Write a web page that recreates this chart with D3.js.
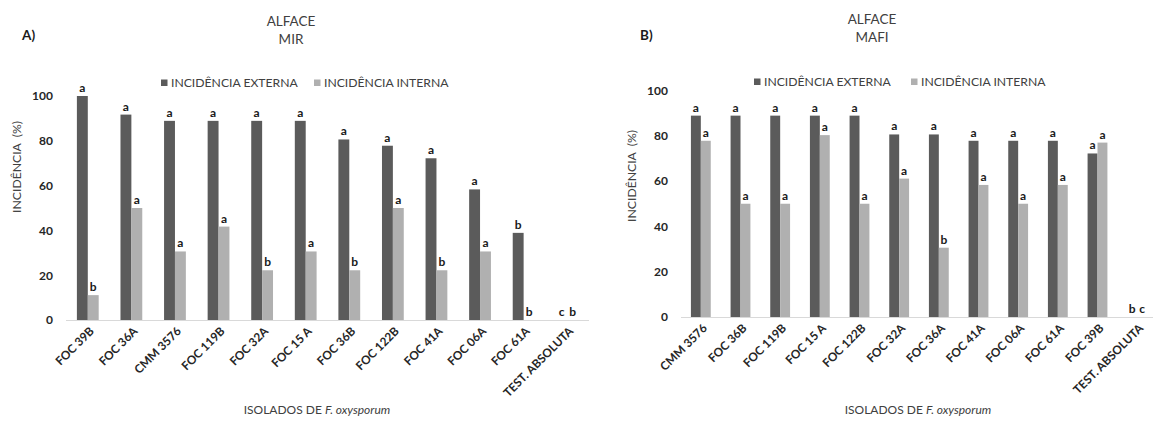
<!DOCTYPE html>
<html>
<head>
<meta charset="utf-8">
<script src="https://cdn.jsdelivr.net/npm/d3@7"></script>
<style>
  html, body { margin: 0; padding: 0; background: #fff; }
  svg { display: block; font-family: Lato, "Open Sans", sans-serif; }
</style>
</head>
<body>
<svg id="chart" width="1153" height="425"></svg>
<script>
// Panel A – ALFACE MIR
const categoriesA = ["FOC 39B", "FOC 36A", "CMM 3576", "FOC 119B", "FOC 32A", "FOC 15 A",
  "FOC 36B", "FOC 122B", "FOC 41A", "FOC 06A", "FOC 61A", "TEST. ABSOLUTA"];
const externaA = [100, 91.7, 88.9, 88.9, 88.9, 88.9, 80.6, 77.8, 72.2, 58.3, 38.9, 0];
const internaA = [11.1, 50, 30.6, 41.7, 22.2, 30.6, 22.2, 50, 22.2, 30.6, 0, 0];
const lettersExtA = ["a", "a", "a", "a", "a", "a", "a", "a", "a", "a", "b", "c"];
const lettersIntA = ["b", "a", "a", "a", "b", "a", "b", "a", "b", "a", "b", "b"];

// Panel B – ALFACE MAFI
const categoriesB = ["CMM 3576", "FOC 36B", "FOC 119B", "FOC 15 A", "FOC 122B", "FOC 32A",
  "FOC 36A", "FOC 41A", "FOC 06A", "FOC 61A", "FOC 39B", "TEST. ABSOLUTA"];
const externaB = [88.9, 88.9, 88.9, 88.9, 88.9, 80.6, 80.6, 77.8, 77.8, 77.8, 72.2, 0];
const internaB = [77.8, 50, 50, 80.3, 50, 61.1, 30.6, 58.3, 50, 58.3, 77.0, 0];
const lettersExtB = ["a", "a", "a", "a", "a", "a", "a", "a", "a", "a", "a", "b"];
const lettersIntB = ["a", "a", "a", "a", "a", "a", "b", "a", "a", "a", "a", "c"];

const yTicks = [0, 20, 40, 60, 80, 100];
const seriesNames = ["INCIDÊNCIA EXTERNA", "INCIDÊNCIA INTERNA"];
const seriesColors = ["#5b5b5b", "#b0b0b0"];

const svg = d3.select("#chart");
svg.append("rect").attr("width", 1153).attr("height", 425).attr("fill", "#fff");

function drawPanel(p) {
  const g = svg.append("g");
  const x = d3.scaleBand().domain(p.categories).range([p.x0, p.x1])
    .paddingInner(0.5).paddingOuter(0.25);
  const y = d3.scaleLinear().domain([0, 100]).range([p.y0, p.y100]);
  const bw = x.bandwidth() / 2;

  // panel tag and title
  g.append("text").attr("x", p.tagX).attr("y", 40).text(p.tag)
    .attr("font-size", 13.5).attr("font-weight", "bold").attr("fill", "#1a1a1a");
  g.append("text").attr("x", p.titleX).attr("y", p.titleY).attr("text-anchor", "middle")
    .attr("font-size", 13.5).attr("fill", "#404040").text("ALFACE");
  g.append("text").attr("x", p.titleX).attr("y", p.titleY + 18).attr("text-anchor", "middle")
    .attr("font-size", 13.5).attr("fill", "#404040").text(p.subtitle);

  // legend
  const lg = g.append("g").attr("transform", `translate(0,${p.legendY})`);
  seriesNames.forEach((name, i) => {
    lg.append("rect").attr("x", p.legendX[i]).attr("y", -3.5).attr("width", 6.5).attr("height", 6.5)
      .attr("fill", seriesColors[i]);
    lg.append("text").attr("x", p.legendX[i] + 10).attr("y", 0).attr("dy", "0.35em")
      .attr("font-size", 12.2).attr("fill", "#404040").text(name);
  });

  // y axis (labels only)
  const ya = g.append("g").attr("transform", `translate(${p.x0},0)`)
    .call(d3.axisLeft(y).tickValues(yTicks).tickSize(0).tickPadding(13));
  ya.select(".domain").remove();
  ya.selectAll("text").attr("font-size", 12).attr("font-weight", "bold")
    .attr("fill", "#262626").attr("font-family", "Lato, sans-serif");

  g.append("text")
    .attr("transform", `translate(${p.yTitleX},${p.yTitleY}) rotate(-90)`)
    .attr("text-anchor", "middle").attr("dy", "0.35em")
    .attr("font-size", 12.2).attr("fill", "#404040")
    .style("white-space", "pre").text("INCIDÊNCIA  (%)");

  // baseline
  g.append("line").attr("x1", p.x0).attr("x2", p.x1).attr("y1", y(0) + 0.5).attr("y2", y(0) + 0.5)
    .attr("stroke", "#d9d9d9").attr("stroke-width", 1);

  const rows = p.categories.map((c, i) => ({
    c, vals: [p.ext[i], p.int[i]], letters: [p.letExt[i], p.letInt[i]]
  }));

  const grp = g.selectAll(".grp").data(rows).enter().append("g")
    .attr("transform", d => `translate(${x(d.c)},0)`);

  [0, 1].forEach(s => {
    grp.append("rect")
      .attr("x", s * bw).attr("width", bw)
      .attr("y", d => y(d.vals[s]))
      .attr("height", d => y(0) - y(d.vals[s]))
      .attr("fill", seriesColors[s]);
    grp.append("text")
      .attr("x", s * bw + bw / 2)
      .attr("y", d => y(d.vals[s]) - 4)
      .attr("text-anchor", "middle")
      .attr("font-size", 12).attr("font-weight", "bold").attr("fill", "#1a1a1a")
      .text(d => d.letters[s]);
  });

  // category labels, rotated
  const xa = g.append("g").attr("transform", `translate(0,${y(0)})`)
    .call(d3.axisBottom(x).tickSize(0));
  xa.select(".domain").remove();
  xa.selectAll("text")
    .attr("font-size", 11.8).attr("font-weight", "bold").attr("fill", "#262626")
    .attr("font-family", "Lato, sans-serif")
    .attr("text-anchor", "end")
    .attr("transform", "translate(4,9) rotate(-45)")
    .attr("dy", "0.35em").attr("y", 0).attr("x", 0);

  // x axis title
  const xt = g.append("text").attr("x", p.xTitleX).attr("y", 414).attr("text-anchor", "middle")
    .attr("font-size", 12).attr("fill", "#404040");
  xt.append("tspan").text("ISOLADOS DE ");
  xt.append("tspan").attr("font-style", "italic").text("F. oxysporum");
}

drawPanel({
  categories: categoriesA, ext: externaA, int: internaA, letExt: lettersExtA, letInt: lettersIntA,
  x0: 66, x1: 589, y0: 320, y100: 96,
  tag: "A)", tagX: 22, subtitle: "MIR", titleX: 291, titleY: 26,
  legendX: [161, 314], legendY: 83,
  yTitleX: 17, yTitleY: 167, xTitleX: 317
});

drawPanel({
  categories: categoriesB, ext: externaB, int: internaB, letExt: lettersExtB, letInt: lettersIntB,
  x0: 681, x1: 1157, y0: 317, y100: 90.5,
  tag: "B)", tagX: 640, subtitle: "MAFI", titleX: 872, titleY: 24,
  legendX: [754, 911], legendY: 82,
  yTitleX: 632, yTitleY: 176, xTitleX: 918
});
</script>
</body>
</html>
